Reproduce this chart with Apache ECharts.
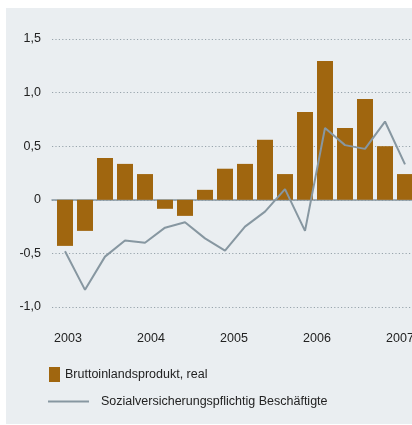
<!DOCTYPE html>
<html>
<head>
<meta charset="utf-8">
<script src="https://cdn.jsdelivr.net/npm/echarts@6/dist/echarts.min.js"></script>
<style>
html, body { margin: 0; padding: 0; background: #fff; }
#chart { width: 412px; height: 425px; }
</style>
</head>
<body>
<div id="chart"></div>
<script>
// quarterly values, 2003 Q1 .. 2007 Q2
const years = ['2003', '2004', '2005', '2006', '2007'];
const bipValues = [-0.43, -0.29, 0.39, 0.335, 0.24, -0.084, -0.15, 0.093, 0.29, 0.335, 0.56, 0.24, 0.82, 1.295, 0.67, 0.94, 0.50, 0.24];
const svbValues = [-0.48, -0.84, -0.53, -0.38, -0.40, -0.26, -0.21, -0.36, -0.475, -0.25, -0.11, 0.10, -0.29, 0.67, 0.51, 0.475, 0.73, 0.33];
const bipName = 'Bruttoinlandsprodukt, real';
const svbName = 'Sozialversicherungspflichtig Beschäftigte';

const textColor = '#222';
const barColor = '#a0660f';
const lineColor = '#8797a1';
const fs = 12.5;

const chart = echarts.init(document.getElementById('chart'));

const option = {
    backgroundColor: '#fff',
    textStyle: { fontFamily: 'Liberation Sans, Arial, sans-serif' },
    graphic: [{
        type: 'rect',
        z: -10,
        silent: true,
        shape: { x: 6, y: 8, width: 406, height: 416 },
        style: { fill: '#eaeef1' }
    }],
    grid: [
        { left: 52, top: 39, width: 360, height: 268, outerBoundsMode: 'none' },
        { left: 68, top: 39, width: 332, height: 268, outerBoundsMode: 'none' }
    ],
    xAxis: [
        {
            gridIndex: 0,
            type: 'value',
            min: -0.65,
            max: 17.35,
            axisLine: { show: true, onZero: true, lineStyle: { color: lineColor, width: 1.5 } },
            axisTick: { show: false },
            axisLabel: { show: false },
            splitLine: { show: false }
        },
        {
            gridIndex: 1,
            type: 'category',
            boundaryGap: false,
            data: years,
            axisLine: { show: false },
            axisTick: { show: false },
            axisLabel: { margin: 25, fontSize: fs, color: textColor }
        }
    ],
    yAxis: [
        {
            gridIndex: 0,
            type: 'value',
            min: -1,
            max: 1.5,
            interval: 0.5,
            axisLine: { show: false },
            axisTick: { show: false },
            axisLabel: {
                margin: 11,
                fontSize: fs,
                color: textColor,
                formatter: v => v === 0 ? '0' : v.toFixed(1).replace('.', ',')
            },
            splitLine: { lineStyle: { color: '#98a4ac', type: [1.2, 2.2], width: 1 } }
        },
        { gridIndex: 1, type: 'value', min: -1, max: 1, show: false }
    ],
    legend: [
        {
            data: [bipName],
            left: 49,
            top: 367,
            padding: 0,
            icon: 'rect',
            itemWidth: 11,
            itemHeight: 15,
            textStyle: { fontSize: fs, color: textColor }
        },
        {
            data: [svbName],
            left: 48,
            top: 395,
            padding: 0,
            icon: 'rect',
            itemWidth: 41,
            itemHeight: 2,
            textStyle: { fontSize: fs, color: textColor, padding: [0, 0, 0, 7] }
        }
    ],
    series: [
        {
            name: bipName,
            type: 'bar',
            xAxisIndex: 0,
            yAxisIndex: 0,
            barWidth: 16,
            itemStyle: { color: barColor },
            data: bipValues.map((v, i) => [i, v])
        },
        {
            name: svbName,
            type: 'line',
            xAxisIndex: 0,
            yAxisIndex: 0,
            symbol: 'none',
            itemStyle: { color: lineColor },
            lineStyle: { color: lineColor, width: 2 },
            z: 3,
            data: svbValues.map((v, i) => [i, v])
        }
    ]
};

chart.setOption(option);
</script>
</body>
</html>
